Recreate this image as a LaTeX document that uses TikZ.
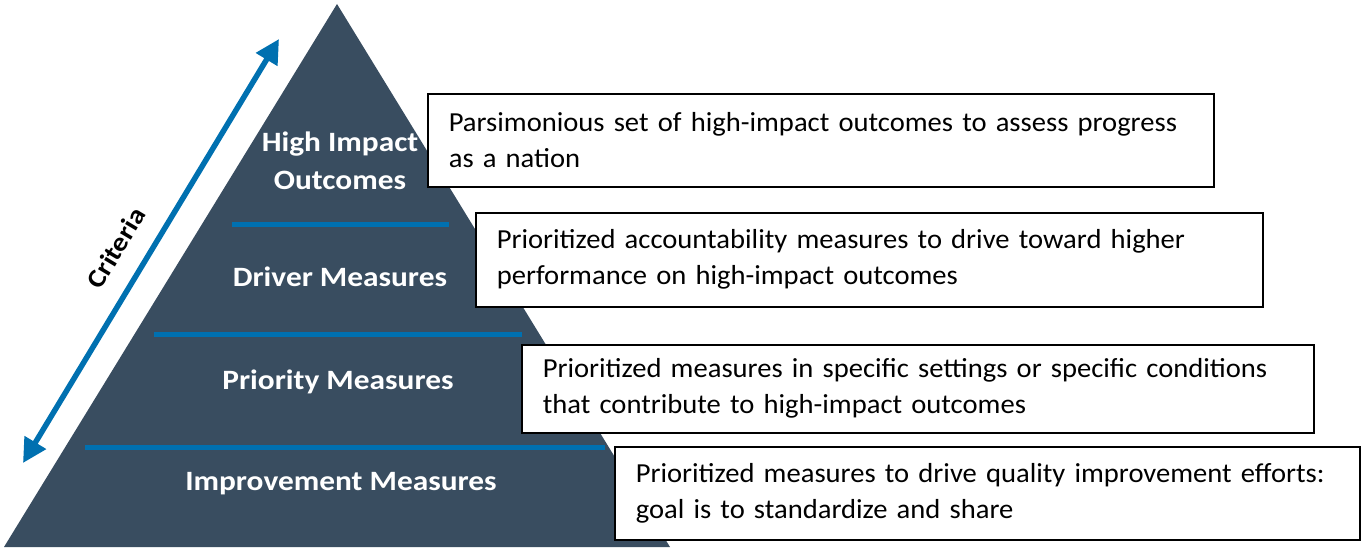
\documentclass[tikz,border=0pt]{standalone}
\usepackage{fontspec}
\setmainfont{Carlito}
\newfontfamily\descfont[FakeStretch=1.04]{Carlito}
\newfontfamily\levelfont[FakeStretch=1.12]{Carlito}
\usetikzlibrary{arrows.meta}
\definecolor{slate}{RGB}{57,77,96}
\definecolor{bar}{RGB}{0,112,176}

\begin{document}
\begin{tikzpicture}[x=1pt,y=-1pt]
    \tikzstyle{level}=[text=white,font=\levelfont\bfseries\fontsize{28}{38}\selectfont,align=center,inner sep=0pt]
    \tikzstyle{descbox}=[draw=black,line width=1.6pt,fill=white,anchor=north west,align=left,inner xsep=21pt,inner ysep=0pt,font=\descfont\fontsize{27.5}{36}\selectfont]
    \tikzstyle{divider}=[draw=bar,line width=5pt]
    \useasboundingbox (0,0) rectangle (1361,548);
    % pyramid
    \fill[slate] (337,4) -- (670,547) -- (4,547) -- cycle;
    \draw[divider] (232,225) -- (449,225);
    \draw[divider] (154,334) -- (522,334);
    \draw[divider] (85,447) -- (605,447);
    \node (top)[level] at (340,161) {High Impact\\Outcomes};
    \node (driver)[level] at (340,277) {Driver Measures};
    \node (priority)[level] at (338,382) {Priority Measures};
    \node (improve)[level] at (341,484) {Improvement Measures};
    % criteria arrow
    \coordinate (lo) at (23,463);
    \coordinate (hi) at (279,39);
    \draw[bar,line width=5.5pt,{Triangle[length=24pt,width=24pt]}-{Triangle[length=24pt,width=24pt]}] (lo) -- (hi);
    \node (crit)[rotate=59,font=\levelfont\bfseries\fontsize{26}{30}\selectfont] at (116,248) {Criteria};
    % descriptions
    \node (d1)[descbox,text width=744pt,minimum height=93pt] at (427,93) {Parsimonious set of high-impact outcomes to assess progress\\as a nation};
    \node (d2)[descbox,text width=745pt,minimum height=94pt] at (475,212) {Prioritized accountability measures to drive toward higher\\performance on high-impact outcomes};
    \node (d3)[descbox,text width=750pt,minimum height=88pt] at (521,344) {Prioritized measures in specific settings or specific conditions\\that contribute to high-impact outcomes};
    \node (d4)[descbox,text width=703pt,minimum height=93pt] at (614,446) {Prioritized measures to drive quality improvement efforts:\\goal is to standardize and share};
\end{tikzpicture}
\end{document}
